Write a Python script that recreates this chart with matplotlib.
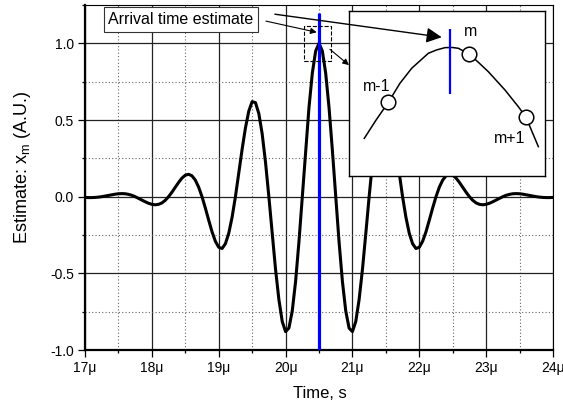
import numpy as np
import matplotlib
matplotlib.use('Agg')
import matplotlib.pyplot as plt
from matplotlib.ticker import MultipleLocator, FixedLocator
from matplotlib.patches import Rectangle

plt.rcParams['font.family'] = ['Liberation Sans', 'DejaVu Sans']
plt.rcParams['mathtext.fontset'] = 'custom'
plt.rcParams['mathtext.rm'] = 'Liberation Sans'
plt.rcParams['mathtext.it'] = 'Liberation Sans:italic'

# ---------------- data ----------------
time_us = np.round(np.arange(17.0, 24.0 + 1e-9, 0.05), 2)
estimate = [
    -0.005, -0.006, -0.006, -0.005, -0.003, 0.000, 0.004, 0.008, 0.012, 0.016,
    0.019, 0.020, 0.019, 0.015, 0.009, 0.000, -0.011, -0.022, -0.033, -0.043,
    -0.050, -0.053, -0.050, -0.041, -0.024, 0.000, 0.029, 0.061, 0.093, 0.121,
    0.140, 0.146, 0.136, 0.108, 0.062, 0.000, -0.074, -0.153, -0.229, -0.291,
    -0.330, -0.338, -0.307, -0.239, -0.134, 0.000, 0.153, 0.309, 0.449, 0.558,
    0.620, 0.613, 0.542, 0.410, 0.224, 0.000, -0.241, -0.474, -0.671, -0.814,
    -0.880, -0.857, -0.745, -0.552, -0.295, 0.000, 0.303, 0.581, 0.805, 0.950,
    1.000,
    0.950, 0.805, 0.581, 0.303, 0.000, -0.295, -0.552, -0.745, -0.857, -0.880,
    -0.814, -0.671, -0.474, -0.241, 0.000, 0.224, 0.410, 0.542, 0.613, 0.620,
    0.558, 0.449, 0.309, 0.153, 0.000, -0.134, -0.239, -0.307, -0.338, -0.330,
    -0.291, -0.229, -0.153, -0.074, 0.000, 0.062, 0.108, 0.136, 0.146, 0.140,
    0.121, 0.093, 0.061, 0.029, 0.000, -0.024, -0.041, -0.050, -0.053, -0.050,
    -0.043, -0.033, -0.022, -0.011, 0.000, 0.009, 0.015, 0.019, 0.020, 0.019,
    0.016, 0.012, 0.008, 0.004, 0.000, -0.003, -0.005, -0.006, -0.006, -0.005,
]
x_ticks = [17, 18, 19, 20, 21, 22, 23, 24]
x_tick_labels = ['17μ', '18μ', '19μ', '20μ', '21μ', '22μ', '23μ', '24μ']
y_ticks = [-1.0, -0.5, 0.0, 0.5, 1.0]
y_tick_labels = ['-1.0', '-0.5', '0.0', '0.5', '1.0']
arrival_time = 20.5

# inset (schematic magnification of the peak, arbitrary units)
inset_u = [0.78, 1.38, 2.01, 2.60, 3.20, 4.05, 4.47, 4.90, 5.26, 5.58, 6.14,
           6.60, 7.11, 7.96, 8.64, 9.03, 9.66]
inset_v = [2.28, 3.39, 4.47, 5.62, 6.53, 7.44, 7.64, 7.78, 7.79, 7.74, 7.38,
           6.89, 6.32, 5.21, 4.20, 3.56, 1.78]
sample_u = [2.01, 6.14, 9.03]
sample_v = [4.47, 7.38, 3.56]
sample_labels = ['m-1', 'm', 'm+1']
inset_arrival_u = 5.15

# ---------------- figure ----------------
W, H = 563, 404
fig = plt.figure(figsize=(W / 100, H / 100), dpi=100)
ax = fig.add_axes([85 / W, 54 / H, 468 / W, 345 / H])

ax.plot(time_us, estimate, color='k', lw=2.2, zorder=3)
ax.vlines(arrival_time, -1.0, 1.2, color='#0000ff', lw=2.3, zorder=4)

ax.set_xlim(17, 24)
ax.set_ylim(-1.0, 1.25)
ax.xaxis.set_major_locator(FixedLocator(x_ticks))
ax.set_xticklabels(x_tick_labels)
ax.yaxis.set_major_locator(FixedLocator(y_ticks))
ax.set_yticklabels(y_tick_labels)
ax.xaxis.set_minor_locator(MultipleLocator(0.5))
ax.yaxis.set_minor_locator(MultipleLocator(0.25))

ax.grid(which='major', color='#222222', lw=0.9, zorder=0)
ax.grid(which='minor', color='#666666', lw=0.8, ls=(0, (1, 2)), zorder=0)
ax.set_axisbelow(True)

ax.tick_params(which='major', direction='out', length=5, width=0.9,
               labelsize=10, pad=3, top=False, right=False)
ax.tick_params(which='minor', direction='out', length=2.5, width=0.9,
               top=False, right=False)
for s in ['left', 'bottom']:
    ax.spines[s].set_linewidth(1.6)
for s in ['top', 'right']:
    ax.spines[s].set_linewidth(0.8)

ax.set_xlabel('Time, s', fontsize=12)
ax.set_ylabel('Estimate: x$_\\mathrm{m}$ (A.U.)', fontsize=13)
ax.xaxis.set_label_coords(0.501, -0.105)
ax.yaxis.set_label_coords(-0.112, 0.53)

# dashed box around the peak
ax.add_patch(Rectangle((20.28, 0.885), 0.40, 0.228, fill=False, ls='--',
                       lw=0.8, ec='k', zorder=5))

# label box
ax.text(18.436, 1.155, 'Arrival time estimate', ha='center', va='center',
        fontsize=11.5, zorder=6,
        bbox=dict(boxstyle='square,pad=0.3', fc='white', ec='#333333', lw=0.8))

# small arrows
ax.annotate('', xy=(20.466, 1.072), xytext=(19.707, 1.145),
            arrowprops=dict(arrowstyle='-|>', color='k', lw=0.8,
                            mutation_scale=9, shrinkA=0, shrinkB=0), zorder=6)
ax.annotate('', xy=(20.948, 0.858), xytext=(20.664, 0.961),
            arrowprops=dict(arrowstyle='-|>', color='k', lw=0.8,
                            mutation_scale=9, shrinkA=0, shrinkB=0), zorder=6)

# inset
ax_in = fig.add_axes([349 / W, (H - 176) / H, 196 / W, 165 / H])
ax_in.set_xlim(0, 10)
ax_in.set_ylim(0, 10)
ax_in.set_xticks([])
ax_in.set_yticks([])
for s in ax_in.spines.values():
    s.set_linewidth(1.0)
ax_in.plot(inset_u, inset_v, color='k', lw=1.1, zorder=2)
ax_in.plot(sample_u, sample_v, 'o', mfc='white', mec='k', ms=10.5, mew=1.1,
           zorder=3)
ax_in.vlines(inset_arrival_u, 4.95, 8.91, color='#0000ff', lw=1.6, zorder=4)
label_pos = [(1.41, 5.41), (6.22, 8.73), (8.21, 2.28)]
for lab, (u, v) in zip(sample_labels, label_pos):
    ax_in.text(u, v, lab, ha='center', va='center', fontsize=11.5)

ax_in.annotate('', xy=(4.73, 8.41), xycoords='data',
               xytext=(19.84, 1.19), textcoords=ax.transData,
               arrowprops=dict(arrowstyle='-|>', color='k', lw=1.0,
                               mutation_scale=23, shrinkA=0, shrinkB=0),
               annotation_clip=False)

fig.savefig('out.png', dpi=100)
